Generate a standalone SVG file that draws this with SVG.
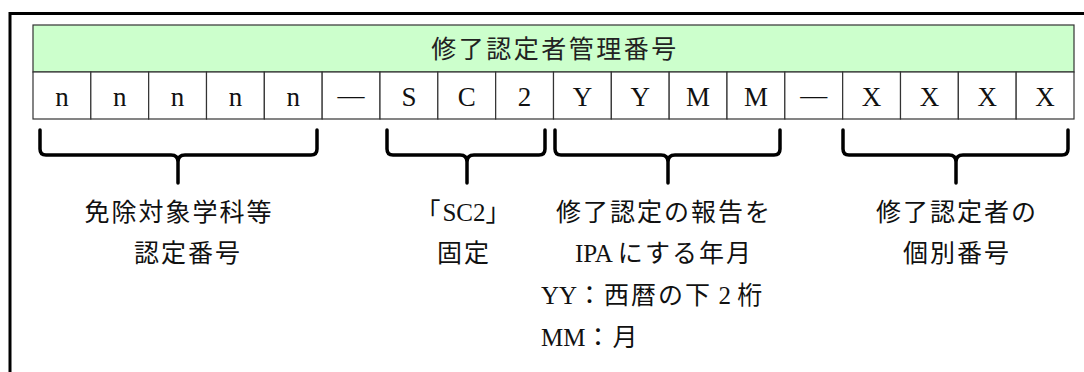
<svg xmlns="http://www.w3.org/2000/svg" width="1084" height="372" viewBox="0 0 1084 372">
<style>
.frame{fill:none;stroke:#000;stroke-width:3}
.hdr{fill:#CCFFCC;stroke:#333;stroke-width:1.2}
.cell{fill:#fff;stroke:#333;stroke-width:1.2}
.ct{font-family:"Liberation Serif","Noto Sans CJK JP",serif;font-size:27px;fill:#111;text-anchor:middle}
.ht{font-family:"Liberation Serif","Noto Sans CJK JP",serif;font-size:25px;fill:#222;text-anchor:middle;letter-spacing:2.5px}
.lb{font-family:"Liberation Serif","Noto Sans CJK JP",serif;font-size:25px;fill:#111;letter-spacing:2px}
.mid{text-anchor:middle}
.la{letter-spacing:0}
.brace{fill:none;stroke:#000;stroke-width:3.5;stroke-linecap:round;stroke-linejoin:round}
</style>
<rect x="0" y="0" width="1084" height="372" fill="#fff"/>
<rect class="frame" x="10" y="13.5" width="1090" height="380"/>
<g id="header">
<rect class="hdr" x="33" y="25" width="1041" height="47"/>
<text class="ht" x="555" y="58">修了認定者管理番号</text>
</g>
<g id="cells">
<rect class="cell" x="33" y="72" width="57.83" height="47"/>
<rect class="cell" x="90.83" y="72" width="57.83" height="47"/>
<rect class="cell" x="148.67" y="72" width="57.83" height="47"/>
<rect class="cell" x="206.5" y="72" width="57.83" height="47"/>
<rect class="cell" x="264.33" y="72" width="57.83" height="47"/>
<rect class="cell" x="322.17" y="72" width="57.83" height="47"/>
<rect class="cell" x="380" y="72" width="57.83" height="47"/>
<rect class="cell" x="437.83" y="72" width="57.83" height="47"/>
<rect class="cell" x="495.67" y="72" width="57.83" height="47"/>
<rect class="cell" x="553.5" y="72" width="57.83" height="47"/>
<rect class="cell" x="611.33" y="72" width="57.83" height="47"/>
<rect class="cell" x="669.17" y="72" width="57.83" height="47"/>
<rect class="cell" x="727" y="72" width="57.83" height="47"/>
<rect class="cell" x="784.83" y="72" width="57.83" height="47"/>
<rect class="cell" x="842.67" y="72" width="57.83" height="47"/>
<rect class="cell" x="900.5" y="72" width="57.83" height="47"/>
<rect class="cell" x="958.33" y="72" width="57.83" height="47"/>
<rect class="cell" x="1016.17" y="72" width="57.83" height="47"/>
<text class="ct" x="61.92" y="106">n</text>
<text class="ct" x="119.75" y="106">n</text>
<text class="ct" x="177.58" y="106">n</text>
<text class="ct" x="235.42" y="106">n</text>
<text class="ct" x="293.25" y="106">n</text>
<text class="ct" x="351.08" y="104">—</text>
<text class="ct" x="408.92" y="106">S</text>
<text class="ct" x="466.75" y="106">C</text>
<text class="ct" x="524.58" y="106">2</text>
<text class="ct" x="582.42" y="106">Y</text>
<text class="ct" x="640.25" y="106">Y</text>
<text class="ct" x="698.08" y="106">M</text>
<text class="ct" x="755.92" y="106">M</text>
<text class="ct" x="813.75" y="104">—</text>
<text class="ct" x="871.58" y="106">X</text>
<text class="ct" x="929.42" y="106">X</text>
<text class="ct" x="987.25" y="106">X</text>
<text class="ct" x="1045.08" y="106">X</text>
</g>
<g id="connectors">
<path class="brace" d="M40,130 L40,149 Q40,155 46,155 L171,155 Q178,155 178,162 L178,183 M178,162 Q178,155 185,155 L311,155 Q317,155 317,149 L317,130"/>
<path class="brace" d="M387,130 L387,149 Q387,155 393,155 L460,155 Q467,155 467,162 L467,183 M467,162 Q467,155 474,155 L539,155 Q545,155 545,149 L545,130"/>
<path class="brace" d="M555,130 L555,149 Q555,155 561,155 L661,155 Q668,155 668,162 L668,183 M668,162 Q668,155 675,155 L774,155 Q780,155 780,149 L780,130"/>
<path class="brace" d="M843,130 L843,149 Q843,155 849,155 L949,155 Q956,155 956,162 L956,183 M956,162 Q956,155 963,155 L1062,155 Q1068,155 1068,149 L1068,130"/>
</g>
<g id="label1">
<text class="lb mid" x="179" y="221">免除対象学科等</text>
<text class="lb mid" x="188" y="262">認定番号</text>
</g>
<g id="label2">
<text class="lb mid" x="464" y="221">「<tspan class="la">SC2</tspan>」</text>
<text class="lb mid" x="464" y="262">固定</text>
</g>
<g id="label3">
<text class="lb mid" x="664" y="221">修了認定の報告を</text>
<text class="lb mid" x="664" y="262"><tspan class="la">IPA </tspan>にする年月</text>
<text class="lb" x="541" y="304"><tspan class="la">YY</tspan>：西暦の下<tspan class="la"> 2 </tspan>桁</text>
<text class="lb" x="541" y="346"><tspan class="la">MM</tspan>：月</text>
</g>
<g id="label4">
<text class="lb mid" x="957" y="221">修了認定者の</text>
<text class="lb mid" x="957" y="262">個別番号</text>
</g>
</svg>
